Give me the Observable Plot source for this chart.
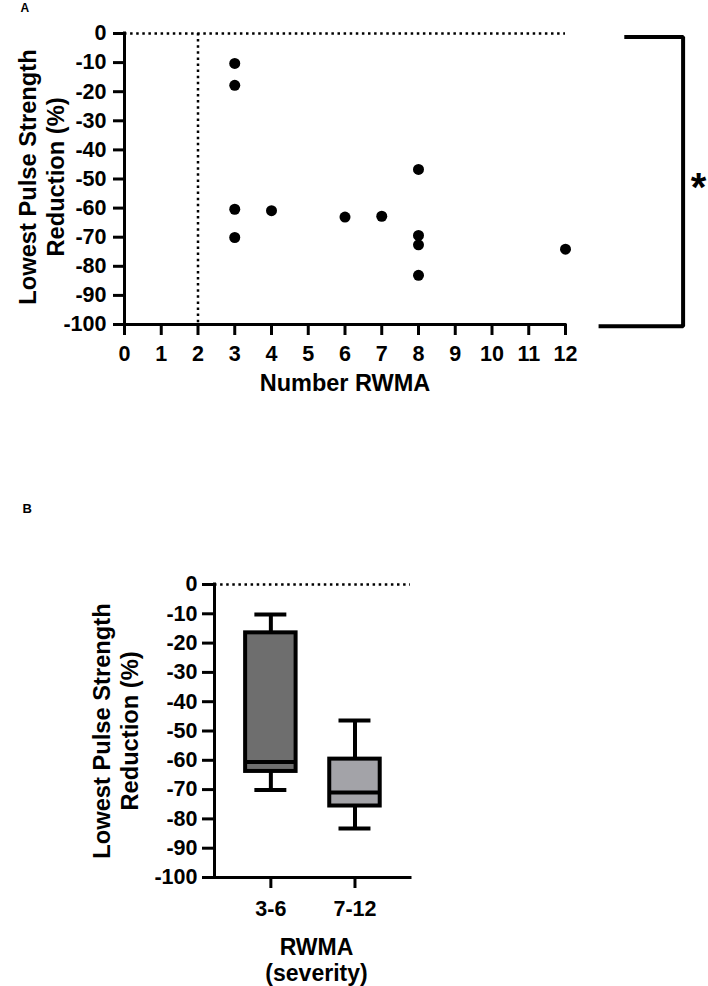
<!DOCTYPE html>
<html>
<head>
<meta charset="utf-8">
<script src="https://cdn.jsdelivr.net/npm/d3@7"></script>
<script src="https://cdn.jsdelivr.net/npm/@observablehq/plot@0.6"></script>
<style>
  body { margin: 0; background: #fff; }
  #wrap { position: relative; width: 708px; height: 986px; overflow: hidden; background: #fff; }
  #a { position: absolute; left: 0; top: 0; }
  #b { position: absolute; left: 0; top: 480px; }
</style>
</head>
<body>
<div id="wrap"><div id="a"></div><div id="b"></div></div>
<script>
// ---- Panel A data: individual patients ----
const rwmaCount = [3, 3, 3, 3, 4, 6, 7, 8, 8, 8, 8, 12];
const pulseReduction = [-10.3, -17.8, -60.4, -70.1, -60.9, -63.1, -62.8, -46.7, -69.4, -72.6, -83.1, -74.1];
const xTicksA = [0, 1, 2, 3, 4, 5, 6, 7, 8, 9, 10, 11, 12];
const yTicks = [0, -10, -20, -30, -40, -50, -60, -70, -80, -90, -100];
const thresholdX = [2];
// significance bracket (data units) and star
const bracketX = [13.6, 15.2, 15.2, 12.9];
const bracketY = [-1.2, -1.2, -100.6, -100.6];
const starLabel = ["*"];
const starX = [15.62];
const starY = [-53.2];

// ---- Panel B data: box summaries by severity ----
const severityGroups = ["3-6", "7-12"];
const groupPos = [1, 2];
const boxMin = [-70.1, -83.3];
const boxQ1 = [-63.8, -75.6];
const boxMedian = [-60.6, -71.0];
const boxQ3 = [-16.5, -59.6];
const boxMax = [-10.2, -46.4];
const boxFill = ["#6e6e6e", "#a3a3a8"];

const font = "'Liberation Sans', Arial, Helvetica, sans-serif";
const fmt = d => String(d);
const dotted = { stroke: "black", strokeWidth: 2.5, strokeDasharray: "2.5,3.6" };
const axisLine = { stroke: "black", strokeWidth: 3, strokeLinecap: "square" };
const yTitle = "Lowest Pulse Strength\nReduction (%)";

const points = rwmaCount.map((c, i) => ({ count: c, reduction: pulseReduction[i] }));
const bracket = bracketX.map((x, i) => ({ x, y: bracketY[i] }));
const star = starLabel.map((t, i) => ({ t, x: starX[i], y: starY[i] }));

const chartA = Plot.plot({
  width: 708, height: 420,
  marginTop: 33, marginLeft: 124, marginRight: 143, marginBottom: 96,
  style: { fontFamily: font, fontWeight: "bold", background: "white", color: "black", overflow: "visible" },
  x: { domain: [0, 12] },
  y: { domain: [-100, 0] },
  marks: [
    Plot.ruleY([0], dotted),
    Plot.ruleX(thresholdX, dotted),
    Plot.ruleX([0], axisLine),
    Plot.ruleY([-100], axisLine),
    Plot.axisX({ ticks: xTicksA, tickSize: 11, tickPadding: 10, fontSize: 21.5, fontWeight: "bold", strokeWidth: 3, tickFormat: fmt, label: null }),
    Plot.axisY({ ticks: yTicks, tickSize: 11, tickPadding: 7, fontSize: 21.5, fontWeight: "bold", strokeWidth: 3, tickFormat: fmt, label: null }),
    Plot.dot(points, { x: "count", y: "reduction", r: 5.5, fill: "black", stroke: "none" }),
    Plot.line(bracket, { x: "x", y: "y", stroke: "black", strokeWidth: 4, strokeLinejoin: "miter", strokeLinecap: "butt" }),
    Plot.text(star, { x: "x", y: "y", text: "t", fontSize: 40, fontWeight: "bold", textAnchor: "middle" }),
    Plot.text([yTitle], { text: d => d, frameAnchor: "left", textAnchor: "middle", rotate: -90, dx: -83, dy: -2, fontSize: 23.7, fontWeight: "bold", lineHeight: 1.18 }),
    Plot.text(["Number RWMA"], { text: d => d, frameAnchor: "bottom", dy: 66, fontSize: 23.5, fontWeight: "bold" }),
    Plot.text(["A"], { text: d => d, frameAnchor: "top-left", dx: -104, dy: -30, lineAnchor: "top", textAnchor: "start", fontSize: 12, fontWeight: "bold" })
  ]
});
document.getElementById("a").appendChild(chartA);

const BOX_HALF = 0.30;
const CAP_HALF = 0.19;
const boxes = severityGroups.map((g, i) => ({
  g, pos: groupPos[i], min: boxMin[i], q1: boxQ1[i], median: boxMedian[i], q3: boxQ3[i], max: boxMax[i], fill: boxFill[i]
}));
const xDomB = [0.33, 2.66];

const chartB = Plot.plot({
  width: 708, height: 506,
  marginTop: 104, marginLeft: 214, marginRight: 298, marginBottom: 109,
  style: { fontFamily: font, fontWeight: "bold", background: "white", color: "black", overflow: "visible" },
  x: { domain: xDomB },
  y: { domain: [-100, 0] },
  color: { type: "identity" },
  marks: [
    Plot.ruleY([0], dotted),
    Plot.ruleX([xDomB[0]], axisLine),
    Plot.ruleY([-100], axisLine),
    Plot.ruleX(boxes, { x: "pos", y1: "max", y2: "q3", stroke: "black", strokeWidth: 4 }),
    Plot.ruleX(boxes, { x: "pos", y1: "q1", y2: "min", stroke: "black", strokeWidth: 4 }),
    Plot.ruleY(boxes, { y: "max", x1: d => d.pos - CAP_HALF, x2: d => d.pos + CAP_HALF, stroke: "black", strokeWidth: 4 }),
    Plot.ruleY(boxes, { y: "min", x1: d => d.pos - CAP_HALF, x2: d => d.pos + CAP_HALF, stroke: "black", strokeWidth: 4 }),
    Plot.rect(boxes, { x1: d => d.pos - BOX_HALF, x2: d => d.pos + BOX_HALF, y1: "q1", y2: "q3", fill: "fill", stroke: "black", strokeWidth: 4 }),
    Plot.ruleY(boxes, { y: "median", x1: d => d.pos - BOX_HALF, x2: d => d.pos + BOX_HALF, stroke: "black", strokeWidth: 4 }),
    Plot.axisX({ ticks: groupPos, tickSize: 11, tickPadding: 12, fontSize: 21.5, fontWeight: "bold", strokeWidth: 3, tickFormat: d => severityGroups[groupPos.indexOf(d)], label: null }),
    Plot.axisY({ ticks: yTicks, tickSize: 12, tickPadding: 5, fontSize: 21.5, fontWeight: "bold", strokeWidth: 3, tickFormat: fmt, label: null }),
    Plot.text([yTitle], { text: d => d, frameAnchor: "left", textAnchor: "middle", rotate: -90, dx: -99, dy: 0, fontSize: 23.7, fontWeight: "bold", lineHeight: 1.18 }),
    Plot.text(["RWMA\n(severity)"], { text: d => d, frameAnchor: "bottom", dx: 4, dy: 59, lineAnchor: "top", fontSize: 23, fontWeight: "bold", lineHeight: 1.13 }),
    Plot.text(["B"], { text: d => d, frameAnchor: "top-left", dx: -192, dy: -81, lineAnchor: "top", textAnchor: "start", fontSize: 13, fontWeight: "bold" })
  ]
});
document.getElementById("b").appendChild(chartB);
</script>
</body>
</html>
